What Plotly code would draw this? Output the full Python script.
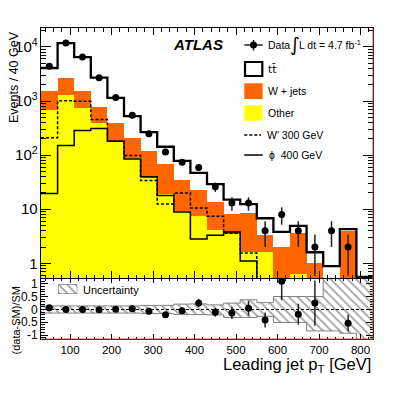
import numpy as np
import plotly.graph_objects as go

# leading jet pT bins (GeV), 40 GeV wide
bin_centers = [50, 90, 130, 170, 210, 250, 290, 330, 370, 410,
               450, 490, 530, 570, 610, 650, 690, 730, 770, 810]
bin_width = 40

data_events = [4380, 11850, 6520, 2700, 1162, 544, 248, 114, 74, 59,
               26, 13, 13, 4, 8, 4, 2, 4, 2, 0]
ttbar = [2560, 9170, 4970, 1935, 750, 318, 147, 75, 43, 24,
         15.2, 7.0, 3.9, 3.5, 1.8, 1.3, 0.6, 0.89, 0.2, 0.56]
wjets = [850, 1340, 800, 385, 220, 122, 83, 49, 25.7, 15.6,
         9.7, 4.45, 6.9, 1.7, 2.0, 2.97, 1.0, 0, 4.1, 0]
other = [680, 1290, 730, 400, 180, 88, 37, 19, 9.3, 7.4,
         4.1, 3.55, 1.6, 1.6, 0, 0.63, 0, 0, 0, 0]
wprime_300 = [210, 1010, 990, 457, 180, 98, 34, 12.5, 20, 10.5,
              7.4, 3.6, 1.55, 0, 0, 0, 0, 0, 0, 0]
phi_400 = [19.5, 150, 285, 310, 180, 85, 40, 18, 8.9, 2.8,
           3.3, 3.8, 1.1, 0, 0, 0, 0, 0, 0, 0]
# relative systematic uncertainty of the SM prediction
unc_up = [0.14, 0.14, 0.14, 0.14, 0.14, 0.14, 0.16, 0.16, 0.21, 0.22,
          0.18, 0.25, 0.38, 0.27, 0.51, 0.51, 0.51, 2.0, 2.0, 2.0]
unc_down = [0.14, 0.14, 0.14, 0.14, 0.14, 0.14, 0.16, 0.16, 0.2, 0.2,
            0.21, 0.31, 0.31, 0.27, 0.51, 0.51, 0.84, 0.84, 0.93, 1.5]

ratio_tickvals = [-1, -0.5, 0, 0.5, 1]
ratio_ticktext = ["-1", "-0.5", "0", "0.5", "1"]

FONT = "Liberation Sans, Arial, sans-serif"
ORANGE = "#ff6600"
YELLOW = "#ffff00"

centers = np.array(bin_centers, float)
edges = np.append(centers - bin_width / 2, centers[-1] + bin_width / 2)
data = np.array(data_events, float)
sm = np.array(ttbar) + np.array(wjets) + np.array(other)


def step(v):
    v = np.asarray(v, float)
    return np.append(v, v[-1])


def floor(v):
    # empty bins fall below the log axis
    v = np.asarray(v, float)
    return np.where(v > 0, v, 1e-3)


has_data = data > 0
data_plot = np.where(has_data, data, np.nan)
ratio = np.where(has_data, (data - sm) / sm, np.nan)
ratio_err = np.sqrt(data) / sm

# page pixels (the html body adds an 8px margin)
OFF = 8
W, H = 415 - OFF, 399 - OFF
L, R, T, B = 41, 373, 28, 339
SPLIT = 278


def px(x):
    return (x - L) / (R - L)


def py(y):
    return (B - y) / (B - T)


fig = go.Figure()

# ---- main panel
for vals, col in [(other, YELLOW), (wjets, ORANGE), (ttbar, "white")]:
    fig.add_trace(go.Bar(x=centers, y=vals, width=bin_width, xaxis="x2", yaxis="y2",
                         marker=dict(color=col, line_width=0), showlegend=False,
                         hoverinfo="skip"))

fig.add_trace(go.Scatter(x=edges, y=step(floor(wprime_300)), mode="lines", line_shape="hv",
                         line=dict(color="black", width=1.5, dash="3px,2px"),
                         xaxis="x2", yaxis="y2", showlegend=False))
fig.add_trace(go.Scatter(x=edges, y=step(floor(phi_400)), mode="lines", line_shape="hv",
                         line=dict(color="black", width=1.5),
                         xaxis="x2", yaxis="y2", showlegend=False))
fig.add_trace(go.Scatter(x=edges, y=step(sm), mode="lines", line_shape="hv",
                         line=dict(color="black", width=2.3),
                         xaxis="x2", yaxis="y2", showlegend=False))
fig.add_trace(go.Scatter(x=centers, y=data_plot, mode="markers",
                         marker=dict(color="black", size=7),
                         error_y=dict(type="data", array=np.sqrt(data), width=0,
                                      thickness=1.5, color="#222"),
                         xaxis="x2", yaxis="y2", showlegend=False))

# ---- ratio panel
hatch = dict(shape="\\", fgcolor="#444", bgcolor="white", size=6, solidity=0.3)
fig.add_trace(go.Scatter(x=edges, y=step(-np.array(unc_down)), mode="lines", line_shape="hv",
                         line=dict(color="#808080", width=1), xaxis="x", yaxis="y",
                         showlegend=False))
fig.add_trace(go.Scatter(x=edges, y=step(unc_up), mode="lines", line_shape="hv",
                         line=dict(color="#808080", width=1), fill="tonexty",
                         fillcolor="rgba(0,0,0,0)", fillpattern=hatch,
                         xaxis="x", yaxis="y", showlegend=False))
fig.add_trace(go.Scatter(x=centers, y=ratio, mode="markers",
                         marker=dict(color="black", size=7),
                         error_y=dict(type="data", array=ratio_err, width=0,
                                      thickness=1.5, color="#222"),
                         xaxis="x", yaxis="y", showlegend=False))

# hatched legend swatch for the uncertainty band (own tiny axes)
fig.add_trace(go.Scatter(x=[0, 1, 1, 0, 0], y=[0, 0, 1, 1, 0], mode="lines", fill="toself",
                         line=dict(color="#606060", width=1), fillcolor="rgba(0,0,0,0)",
                         fillpattern=hatch,
                         xaxis="x3", yaxis="y3", showlegend=False, hoverinfo="skip"))

tickfont = dict(family=FONT, size=12, color="black")
axis_common = dict(showline=True, linecolor="black", linewidth=1, mirror="allticks",
                   ticks="inside", tickcolor="black", showgrid=False, zeroline=False,
                   automargin=False)

fig.update_layout(
    width=W, height=H,
    margin=dict(l=L - OFF, r=W - (R - OFF), t=T - OFF, b=H - (B - OFF), autoexpand=False),
    paper_bgcolor="white", plot_bgcolor="white",
    barmode="stack", bargap=0,
    showlegend=False,
    xaxis=dict(axis_common, domain=[0, 1], anchor="y", range=[30, 830], dtick=100,
               ticklen=5, minor=dict(ticks="inside", dtick=20, ticklen=2.5, tickcolor="black"),
               tickfont=dict(family=FONT, size=11.5, color="black")),
    yaxis=dict(axis_common, domain=[0, py(SPLIT)], anchor="x", range=[-1.157, 1.235],
               tickvals=ratio_tickvals, ticktext=ratio_ticktext, ticklen=7,
               minor=dict(ticks="inside", dtick=0.1, ticklen=3.5, tickcolor="black"),
               tickfont=tickfont),
    xaxis2=dict(axis_common, domain=[0, 1], anchor="y2", matches="x", range=[30, 830],
                dtick=100, showticklabels=False, ticklen=7,
                minor=dict(ticks="inside", dtick=20, ticklen=3.5, tickcolor="black")),
    yaxis2=dict(axis_common, domain=[py(SPLIT), 1], anchor="x2", type="log",
                range=[-0.272, 4.351], dtick=1, exponentformat="power", ticklen=10,
                minor=dict(ticks="inside", ticklen=5, tickcolor="black", dtick="D1"),
                tickfont=tickfont),
    xaxis3=dict(domain=[px(58.3), px(77.3)], anchor="y3", range=[0, 1], visible=False,
                automargin=False),
    yaxis3=dict(domain=[py(294), py(284.3)], anchor="x3", range=[0, 1], visible=False,
                automargin=False),
)

# dashed zero line in ratio panel
shapes = [dict(type="line", xref="x domain", yref="y", x0=0, x1=1, y0=0, y1=0,
               line=dict(color="black", width=1.2, dash="3px,2px"))]
# reddish right / bottom frame edges
shapes += [dict(type="line", xref="paper", yref="paper", x0=1, x1=1, y0=0, y1=1,
                line=dict(color="#c84848", width=1)),
           dict(type="line", xref="paper", yref="paper", x0=0, x1=1, y0=0, y1=0,
                line=dict(color="#c84848", width=1))]


def pline(x0, y0, x1, y1, **kw):
    return dict(type="line", xref="paper", yref="paper",
                x0=px(x0), x1=px(x1), y0=py(y0), y1=py(y1),
                line=dict(color="black", **kw))


def prect(x0, y0, x1, y1, fill, lw=0):
    return dict(type="rect", xref="paper", yref="paper",
                x0=px(x0), x1=px(x1), y0=py(y1), y1=py(y0),
                fillcolor=fill, line=dict(color="black", width=lw))


# legend symbols
shapes += [
    pline(244.3, 45, 262.7, 45, width=1.3),
    pline(253.5, 40, 253.5, 50.5, width=1.3),
    dict(type="circle", xref="paper", yref="paper", x0=px(250), x1=px(257),
         y0=py(48.5), y1=py(41.5), fillcolor="black", line=dict(color="black", width=0)),
    prect(245, 62, 262.3, 76, "white", lw=2.2),
    prect(244.3, 83.3, 262.7, 99, ORANGE),
    prect(244.3, 105.3, 262.7, 120.7, YELLOW),
    pline(244.3, 135, 261, 135, width=1.5, dash="3px,2px"),
    pline(244.3, 155, 262.7, 155, width=1.5),
]
fig.update_layout(shapes=shapes)


def ptext(x, y, text, size=10.5, **kw):
    d = dict(xref="paper", yref="paper", x=px(x), y=py(y), text=text, showarrow=False,
             xanchor="left", yanchor="middle",
             font=dict(family=FONT, size=size, color="black"))
    d.update(kw)
    return d


annotations = [
    ptext(265.5, 45, "Data"),
    ptext(288, 44, "\u222b", font=dict(family="DejaVu Sans", size=19, color="black")),
    ptext(297, 44.5, "L dt = 4.7 fb<sup>-1</sup>"),
    ptext(265.5, 69.5, "tt\u0304", font=dict(family="DejaVu Sans", size=11, color="black")),
    ptext(265.5, 91, "W + jets"),
    ptext(265.5, 113, "Other"),
    ptext(265, 135, "W' 300 GeV"),
    ptext(266.5, 155, "\u03d5  400 GeV"),
    ptext(171, 44, "<b><i>ATLAS</i></b>", size=15),
    ptext(81, 289.5, "Uncertainty", size=11),
    ptext(14, 77, "Events / 40 GeV", size=12.5, textangle=-90, xanchor="center"),
    ptext(15, 320.5, "(data-SM)/SM", size=11, textangle=-90, xanchor="center"),
    ptext(373, 365, "Leading jet p<sub>T</sub> [GeV]", size=16.5, xanchor="right"),
]
fig.update_layout(annotations=annotations)

fig.write_html("out.html")
